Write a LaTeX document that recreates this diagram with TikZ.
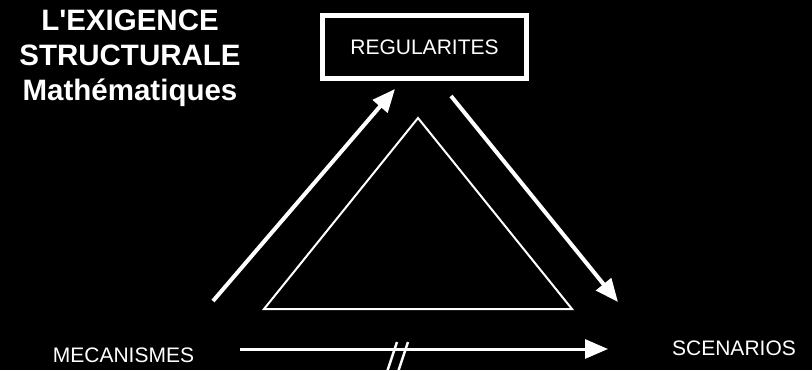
\documentclass[tikz,border=0pt]{standalone}
\usepackage{fontspec}
\setmainfont{Liberation Sans}
\usetikzlibrary{arrows.meta}
\begin{document}
\begin{tikzpicture}[x=1pt,y=-1pt]
\tikzstyle{caption}=[text=white, font=\fontsize{21}{25}\selectfont, inner sep=0pt]
\tikzstyle{bigarrow}=[draw=white, line width=4pt, -{Triangle[length=23pt,width=19pt]}]
    \useasboundingbox (0,0) rectangle (812,370);
    \fill[black] (0,0) rectangle (812,370);

    \node[text=white, font=\bfseries\fontsize{29.5}{35}\selectfont, align=center, inner sep=0pt] (title) at (130,58.5) {L\textquotesingle EXIGENCE\\STRUCTURALE\\Mathématiques};
    \node[caption, draw=white, line width=5pt, minimum width=204pt, minimum height=63pt] (regul) at (424.5,47) {REGULARITES};
    \node[caption] (meca) at (123.5,355.5) {MECANISMES};
    \node[caption] (scen) at (734,348) {SCENARIOS};

    \coordinate (mecaA) at (213,301);
    \coordinate (regulA) at (395,89);
    \coordinate (regulB) at (451,96);
    \coordinate (scenB) at (618,302);
    \coordinate (mecaC) at (240,349);
    \coordinate (scenC) at (608,349);

    \draw[bigarrow] (mecaA) -- (regulA);
    \draw[bigarrow] (regulB) -- (scenB);
    \draw[bigarrow, line width=3pt] (mecaC) -- (scenC);

    \draw[white, line width=2.5pt] (397,342) -- (387,372);
    \draw[white, line width=2.5pt] (408,342) -- (398,372);

    \draw[white, line width=2pt, line join=miter] (418,118) -- (264,309) -- (572,309) -- cycle;
\end{tikzpicture}
\end{document}
